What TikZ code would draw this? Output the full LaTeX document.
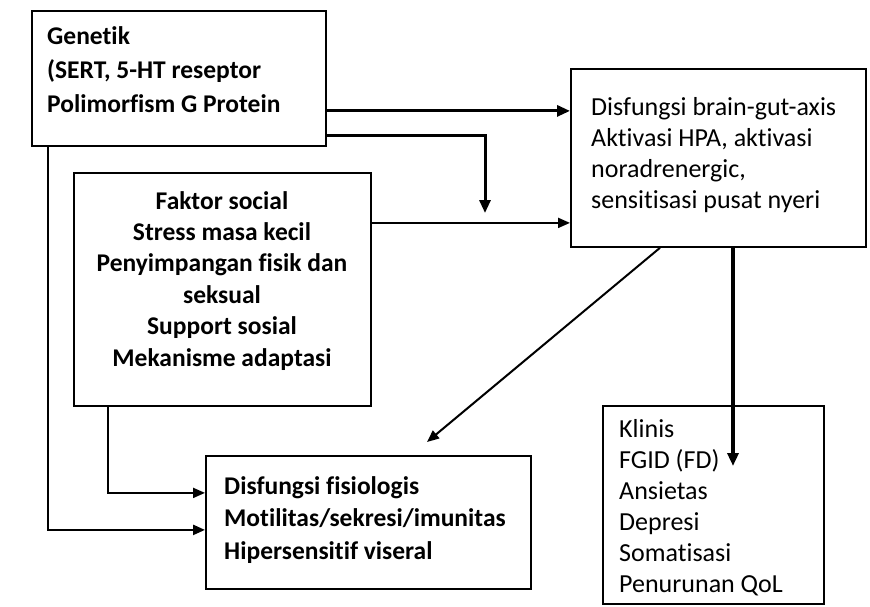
\documentclass[tikz,border=0pt]{standalone}
\usepackage{fontspec}
\setmainfont{Carlito}[Ligatures=NoCommon]
\usetikzlibrary{arrows.meta,calc}
\begin{document}
\begin{tikzpicture}[x=1pt,y=-1pt,
  box/.style={draw,line width=1.8pt,inner sep=0pt,anchor=north west},
  txt/.style={inner sep=0pt,anchor=north west},
  conn/.style={line width=2pt,-{Triangle[length=12pt,width=10pt]}},
  heavy/.style={line width=3pt,-{Triangle[length=13pt,width=11pt]}}]
\useasboundingbox[fill=white] (0,0) rectangle (870,607);

% boxes
\node[box,minimum width=294pt,minimum height=135pt] (gen) at (31,10) {};
\node[box,minimum width=295pt,minimum height=178pt] (brain) at (570,68) {};
\node[box,minimum width=297pt,minimum height=233pt] (fak) at (73,172) {};
\node[box,minimum width=325pt,minimum height=133pt] (fis) at (205,455) {};
\node[box,minimum width=221pt,minimum height=198pt] (kli) at (602,405) {};

% texts
\node[txt,align=left,font=\fontsize{25.5}{34}\selectfont\bfseries] (gent) at (47,26) {Genetik\\(SERT, 5-HT reseptor\\Polimorfism G Protein};
\node[txt,align=left,font=\fontsize{26}{31}\selectfont] (braint) at (591,97) {Disfungsi brain-gut-axis\\Aktivasi HPA, aktivasi\\noradrenergic,\\sensitisasi pusat nyeri};
\node[txt,align=center,anchor=north,font=\fontsize{25.5}{31.4}\selectfont\bfseries] (fakt) at (222,191) {Faktor social\\Stress masa kecil\\Penyimpangan fisik dan\\seksual\\Support sosial\\Mekanisme adaptasi};
\node[txt,align=left,font=\fontsize{25.5}{32.5}\selectfont\bfseries] (fist) at (224,476) {Disfungsi fisiologis\\Motilitas/sekresi/imunitas\\Hipersensitif viseral};
\node[txt,align=left,font=\fontsize{26}{31}\selectfont] (klit) at (619,419) {Klinis\\FGID (FD)\\Ansietas\\Depresi\\Somatisasi\\Penurunan QoL};

% connectors
\coordinate (drop) at (485,213);
\coordinate (diag) at (427,442);
\coordinate (down) at (733,466);

\draw[heavy] ([yshift=-32.5pt]gen.east) coordinate (g1) -- (g1 -| brain.west);
\draw[heavy] ([yshift=-57.5pt]gen.east) -| (drop);
\draw[conn] ([yshift=66.5pt]fak.east) coordinate (f1) -- (f1 -| brain.west);
\draw[conn,line width=2.4pt] ([xshift=17pt]gen.south west) |- ([yshift=-7.5pt]fis.west);
\draw[conn] ([xshift=35pt]fak.south west) |- ([yshift=29.5pt]fis.west);
\draw[conn] ([xshift=90pt]brain.south west) -- (diag);
\draw[heavy,line width=3.4pt] ([xshift=163pt]brain.south west) -- (down);
\end{tikzpicture}
\end{document}
